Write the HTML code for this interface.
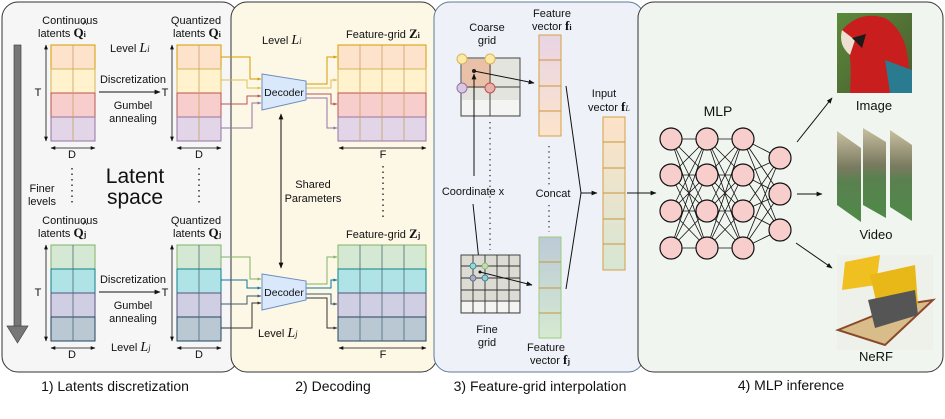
<!DOCTYPE html>
<html><head><meta charset="utf-8"><style>
html,body{margin:0;padding:0;background:#fff;}
svg{display:block;}
text{font-family:"Liberation Sans",sans-serif;fill:#111;}
.m{font-family:"Liberation Serif",serif;font-style:italic;}
.b{font-family:"Liberation Serif",serif;font-weight:bold;}
</style></head><body>
<svg width="945" height="419" viewBox="0 0 945 419" xmlns="http://www.w3.org/2000/svg">
<defs>
<marker id="ah" viewBox="0 0 10 10" refX="9" refY="5" markerWidth="6" markerHeight="6" orient="auto-start-reverse"><path d="M0,1 L10,5 L0,9 z" fill="#111"/></marker>
<marker id="as" viewBox="0 0 10 10" refX="9" refY="5" markerWidth="4" markerHeight="4" orient="auto"><path d="M0,1 L10,5 L0,9 z" fill="context-stroke"/></marker>
<linearGradient id="ginp" x1="0" y1="0" x2="0" y2="1"><stop offset="0" stop-color="#fde2c8"/><stop offset="1" stop-color="#d6e6d3"/></linearGradient>
<linearGradient id="gfi" x1="0" y1="0" x2="0" y2="1"><stop offset="0" stop-color="#e8d4e4"/><stop offset="1" stop-color="#fde4cc"/></linearGradient>
<linearGradient id="gfj" x1="0" y1="0" x2="0" y2="1"><stop offset="0" stop-color="#bccad6"/><stop offset="1" stop-color="#d6ead2"/></linearGradient>
<linearGradient id="gpar" x1="0" y1="0" x2="1" y2="1"><stop offset="0" stop-color="#5a8a3a"/><stop offset="1" stop-color="#4a5a30"/></linearGradient>
<linearGradient id="gvid" x1="0" y1="0" x2="0" y2="1"><stop offset="0" stop-color="#c8c0a0"/><stop offset="0.4" stop-color="#7a7a60"/><stop offset="0.55" stop-color="#5a8050"/><stop offset="1" stop-color="#4f8a48"/></linearGradient>
<g id="gu2">
<rect x="0" y="45" width="44" height="24" fill="#fde3cc" stroke="#d79b00"/>
<rect x="0" y="69" width="44" height="24" fill="#fff2cc" stroke="#d6b656"/>
<rect x="0" y="93" width="44" height="24" fill="#f8cecc" stroke="#b85450"/>
<rect x="0" y="117" width="44" height="24" fill="#e1d5e7" stroke="#9673a6"/>
<line x1="22" y1="45" x2="22" y2="141" stroke="#c8a060" stroke-width="0.8"/>
</g>
<g id="gl2">
<rect x="0" y="245" width="44" height="24" fill="#d5e8d4" stroke="#82b366"/>
<rect x="0" y="269" width="44" height="24" fill="#b0e3e6" stroke="#0e8088"/>
<rect x="0" y="293" width="44" height="24" fill="#d0cee2" stroke="#56517e"/>
<rect x="0" y="317" width="44" height="24" fill="#bac8d3" stroke="#23445d"/>
<line x1="22" y1="245" x2="22" y2="341" stroke="#4a6a7a" stroke-width="0.8"/>
</g>
</defs>

<!-- panels -->
<rect x="2" y="2" width="236" height="370" rx="16" fill="#f6f6f6" stroke="#333" stroke-width="1"/>
<rect x="231" y="2" width="206" height="370" rx="16" fill="#fdf7e6" stroke="#333" stroke-width="1"/>
<rect x="434" y="2" width="210" height="370" rx="16" fill="#eef2f8" stroke="#5c7a99" stroke-width="1"/>
<rect x="638" y="2" width="305" height="370" rx="16" fill="#f0f5ef" stroke="#333" stroke-width="1"/>

<text x="115" y="391" font-size="14" text-anchor="middle">1) Latents discretization</text>
<text x="333" y="391" font-size="14" text-anchor="middle">2) Decoding</text>
<text x="540" y="391" font-size="14" text-anchor="middle">3) Feature-grid interpolation</text>
<text x="791" y="390" font-size="14" text-anchor="middle">4) MLP inference</text>

<!-- panel 1 -->
<rect x="14" y="45" width="7" height="282" fill="#777" stroke="#444" stroke-width="0.7"/>
<path d="M7,326 L28,326 L17.5,343 z" fill="#777" stroke="#444" stroke-width="0.7"/>
<text x="42" y="192" font-size="11" text-anchor="middle">Finer</text>
<text x="42" y="205" font-size="11" text-anchor="middle">levels</text>
<text x="135" y="183" font-size="21" text-anchor="middle">Latent</text>
<text x="135" y="204" font-size="21" text-anchor="middle">space</text>
<line x1="72" y1="168" x2="72" y2="206" stroke="#333" stroke-width="1.5" stroke-dasharray="1.5,4"/>
<line x1="199" y1="168" x2="199" y2="206" stroke="#333" stroke-width="1.5" stroke-dasharray="1.5,4"/>

<g id="g1">
<g font-size="11">
<text x="70" y="24" text-anchor="middle">Continuous</text>
<text x="196" y="24" text-anchor="middle">Quantized</text>
<text x="133" y="83" text-anchor="middle">Discretization</text>
<text x="133" y="109" text-anchor="middle">Gumbel</text>
<text x="133" y="122" text-anchor="middle">annealing</text>
<text x="38" y="96" text-anchor="middle">T</text>
<text x="165" y="96" text-anchor="middle">T</text>
<text x="72" y="158" text-anchor="middle">D</text>
<text x="199" y="158" text-anchor="middle">D</text>
</g>
<line x1="99" y1="92" x2="160" y2="92" stroke="#111" marker-end="url(#ah)"/>
<line x1="46" y1="45" x2="46" y2="141" stroke="#111" stroke-width="0.8" marker-start="url(#ah)" marker-end="url(#ah)"/>
<line x1="172" y1="45" x2="172" y2="141" stroke="#111" stroke-width="0.8" marker-start="url(#ah)" marker-end="url(#ah)"/>
<line x1="51" y1="148" x2="95" y2="148" stroke="#111" stroke-width="0.8" marker-start="url(#ah)" marker-end="url(#ah)"/>
<line x1="177" y1="148" x2="221" y2="148" stroke="#111" stroke-width="0.8" marker-start="url(#ah)" marker-end="url(#ah)"/>
</g>
<use href="#g1" y="200"/>

<text x="38" y="37" font-size="11">latents <tspan class="b" font-size="13">Q</tspan><tspan class="b" font-size="8">i</tspan></text>
<text x="82" y="27" font-size="10" class="b">^</text>
<text x="173" y="37" font-size="11">latents <tspan class="b" font-size="13">Q</tspan><tspan class="b" font-size="8">i</tspan></text>
<text x="110" y="52" font-size="11">Level <tspan class="m" font-size="14">L</tspan><tspan class="m" font-size="9">i</tspan></text>
<text x="38" y="237" font-size="11">latents <tspan class="b" font-size="13">Q</tspan><tspan class="b" font-size="8">j</tspan></text>
<text x="82" y="227" font-size="10" class="b">^</text>
<text x="173" y="237" font-size="11">latents <tspan class="b" font-size="13">Q</tspan><tspan class="b" font-size="8">j</tspan></text>
<text x="111" y="351" font-size="11">Level <tspan class="m" font-size="14">L</tspan><tspan class="m" font-size="9">j</tspan></text>

<!-- grids -->
<use href="#gu2" x="51"/>
<use href="#gu2" x="177"/>
<use href="#gl2" x="51"/>
<use href="#gl2" x="177"/>

<!-- feature grids -->
<rect x="338" y="45" width="88" height="24" fill="#fde3cc" stroke="#d79b00"/>
<rect x="338" y="69" width="88" height="24" fill="#fff2cc" stroke="#d6b656"/>
<rect x="338" y="93" width="88" height="24" fill="#f8cecc" stroke="#b85450"/>
<rect x="338" y="117" width="88" height="24" fill="#e1d5e7" stroke="#9673a6"/>
<g stroke="#c8a060" stroke-width="0.8"><line x1="360" y1="45" x2="360" y2="141"/><line x1="382" y1="45" x2="382" y2="141"/><line x1="404" y1="45" x2="404" y2="141"/></g>
<rect x="338" y="245" width="88" height="24" fill="#d5e8d4" stroke="#82b366"/>
<rect x="338" y="269" width="88" height="24" fill="#b0e3e6" stroke="#0e8088"/>
<rect x="338" y="293" width="88" height="24" fill="#d0cee2" stroke="#56517e"/>
<rect x="338" y="317" width="88" height="24" fill="#bac8d3" stroke="#23445d"/>
<g stroke="#4a6a7a" stroke-width="0.8"><line x1="360" y1="245" x2="360" y2="341"/><line x1="382" y1="245" x2="382" y2="341"/><line x1="404" y1="245" x2="404" y2="341"/></g>

<!-- panel 2 -->
<text x="262" y="44" font-size="11">Level <tspan class="m" font-size="14">L</tspan><tspan class="m" font-size="9">i</tspan></text>
<text x="346" y="38" font-size="11">Feature-grid <tspan class="b" font-size="13">Z</tspan><tspan class="b" font-size="8">i</tspan></text>
<text x="346" y="238" font-size="11">Feature-grid <tspan class="b" font-size="13">Z</tspan><tspan class="b" font-size="8">j</tspan></text>
<text x="258" y="337" font-size="11">Level <tspan class="m" font-size="14">L</tspan><tspan class="m" font-size="9">j</tspan></text>
<line x1="339" y1="148" x2="426" y2="148" stroke="#111" stroke-width="0.8" marker-start="url(#ah)" marker-end="url(#ah)"/>
<line x1="339" y1="348" x2="426" y2="348" stroke="#111" stroke-width="0.8" marker-start="url(#ah)" marker-end="url(#ah)"/>
<text x="383" y="158" font-size="11" text-anchor="middle">F</text>
<text x="383" y="358" font-size="11" text-anchor="middle">F</text>
<line x1="383" y1="166" x2="383" y2="220" stroke="#333" stroke-width="1.5" stroke-dasharray="1.5,4"/>
<text x="313" y="188" font-size="11" text-anchor="middle">Shared</text>
<text x="313" y="202" font-size="11" text-anchor="middle">Parameters</text>
<line x1="281" y1="114" x2="281" y2="268" stroke="#111" stroke-width="1" marker-start="url(#ah)" marker-end="url(#ah)"/>

<g fill="none" stroke-width="1">
<polyline points="221,57 250,57 250,79 261,79" stroke="#d79b00" marker-end="url(#as)"/>
<polyline points="221,80 247,80 247,88 261,88" stroke="#e0c050" marker-end="url(#as)"/>
<polyline points="221,104 247,104 247,96 261,96" stroke="#b85450" marker-end="url(#as)"/>
<polyline points="221,128 252,128 252,103 261,103" stroke="#9673a6" marker-end="url(#as)"/>
<polyline points="306,84 327,84 327,57 337,57" stroke="#d79b00" marker-end="url(#as)"/>
<polyline points="306,88 331,88 331,80 337,80" stroke="#e0c050" marker-end="url(#as)"/>
<polyline points="306,94 331,94 331,104 337,104" stroke="#b85450" marker-end="url(#as)"/>
<polyline points="306,98 327,98 327,128 337,128" stroke="#9673a6" marker-end="url(#as)"/>
<polyline points="221,257 250,257 250,279 261,279" stroke="#82b366" marker-end="url(#as)"/>
<polyline points="221,280 247,280 247,288 261,288" stroke="#10739e" marker-end="url(#as)"/>
<polyline points="221,304 247,304 247,296 261,296" stroke="#3c5a6e" marker-end="url(#as)"/>
<polyline points="221,328 252,328 252,303 261,303" stroke="#333" marker-end="url(#as)"/>
<polyline points="306,284 327,284 327,257 337,257" stroke="#82b366" marker-end="url(#as)"/>
<polyline points="306,288 331,288 331,280 337,280" stroke="#10739e" marker-end="url(#as)"/>
<polyline points="306,294 331,294 331,304 337,304" stroke="#3c5a6e" marker-end="url(#as)"/>
<polyline points="306,298 327,298 327,328 337,328" stroke="#333" marker-end="url(#as)"/>
</g>
<path d="M262,74 L306,81 L306,100 L262,110 z" fill="#dae8fc" stroke="#6c8ebf"/>
<text x="284" y="96" font-size="10.5" text-anchor="middle">Decoder</text>
<path d="M262,274 L306,281 L306,300 L262,310 z" fill="#dae8fc" stroke="#6c8ebf"/>
<text x="284" y="296" font-size="10.5" text-anchor="middle">Decoder</text>

<!-- panel 3 -->
<text x="487" y="31" font-size="11" text-anchor="middle">Coarse</text>
<text x="487" y="44" font-size="11" text-anchor="middle">grid</text>
<text x="552" y="17" font-size="11" text-anchor="middle">Feature</text>
<text x="532" y="30" font-size="11">vector <tspan class="b" font-size="13">f</tspan><tspan class="b" font-size="8">i</tspan></text>
<text x="546" y="351" font-size="11" text-anchor="middle">Feature</text>
<text x="530" y="364" font-size="11">vector <tspan class="b" font-size="13">f</tspan><tspan class="b" font-size="8">j</tspan></text>
<text x="487" y="333" font-size="11" text-anchor="middle">Fine</text>
<text x="487" y="346" font-size="11" text-anchor="middle">grid</text>
<text x="473" y="195" font-size="11" text-anchor="middle">Coordinate x</text>
<text x="553" y="197" font-size="11" text-anchor="middle">Concat</text>
<text x="604" y="97" font-size="11" text-anchor="middle">Input</text>
<text x="588" y="111" font-size="11">vector <tspan class="b" font-size="13">f</tspan><tspan class="m" font-size="8">L</tspan></text>

<rect x="461" y="58" width="59" height="58" fill="#e4e4de" stroke="#444"/>
<rect x="462" y="59" width="29" height="29" fill="#e8b89a" opacity="0.8"/>
<rect x="462" y="100" width="57" height="15" fill="#f4f4f2"/>
<line x1="490" y1="58" x2="490" y2="116" stroke="#444"/><line x1="461" y1="87" x2="520" y2="87" stroke="#444"/>
<circle cx="462" cy="59" r="5" fill="#fde9a8" stroke="#d6b656"/><circle cx="490" cy="59" r="5" fill="#fde9a8" stroke="#d6b656"/>
<circle cx="462" cy="88" r="5" fill="#d8c8e4" stroke="#9673a6"/><circle cx="490" cy="88" r="5" fill="#e8b0a8" stroke="#b85450"/>
<circle cx="474" cy="71" r="2" fill="#222"/>
<line x1="474" y1="71" x2="534" y2="83" stroke="#111" marker-end="url(#ah)"/>
<line x1="474" y1="176" x2="474" y2="74" stroke="#111" marker-end="url(#ah)"/>
<line x1="473" y1="204" x2="480" y2="270" stroke="#111"/>
<line x1="490" y1="122" x2="490" y2="250" stroke="#333" stroke-width="1.3" stroke-dasharray="1.3,4"/>

<rect x="461" y="255" width="59" height="58" fill="#dcdcd4" stroke="#444"/>
<rect x="462" y="300" width="57" height="12" fill="#f4f4f2"/>
<g stroke="#333" stroke-width="0.9">
<line x1="473" y1="255" x2="473" y2="313"/><line x1="485" y1="255" x2="485" y2="313"/><line x1="497" y1="255" x2="497" y2="313"/><line x1="509" y1="255" x2="509" y2="313"/>
<line x1="461" y1="266" x2="520" y2="266"/><line x1="461" y1="278" x2="520" y2="278"/><line x1="461" y1="290" x2="520" y2="290"/><line x1="461" y1="301" x2="520" y2="301"/>
</g>
<circle cx="473" cy="266" r="3" fill="#a0d4d0" stroke="#0e8088" stroke-width="0.7"/><circle cx="485" cy="266" r="3" fill="#c0dcb0" stroke="#82b366" stroke-width="0.7"/>
<circle cx="473" cy="278" r="3" fill="#a8b0c0" stroke="#56517e" stroke-width="0.7"/><circle cx="485" cy="278" r="3" fill="#a0c8d0" stroke="#10739e" stroke-width="0.7"/>
<circle cx="480" cy="272" r="1.5" fill="#111"/>
<line x1="480" y1="272" x2="532" y2="285" stroke="#111" marker-end="url(#ah)"/>

<rect x="539" y="35" width="22" height="101" fill="url(#gfi)" stroke="#d6a040"/>
<g stroke="#c8963c"><line x1="539" y1="60" x2="561" y2="60"/><line x1="539" y1="86" x2="561" y2="86"/><line x1="539" y1="111" x2="561" y2="111"/></g>
<rect x="539" y="237" width="22" height="101" fill="url(#gfj)" stroke="#9ccc80"/>
<g stroke="#c8963c"><line x1="539" y1="262" x2="561" y2="262"/><line x1="539" y1="288" x2="561" y2="288"/><line x1="539" y1="313" x2="561" y2="313"/></g>
<line x1="549" y1="146" x2="549" y2="185" stroke="#333" stroke-width="1.3" stroke-dasharray="1.3,4"/>
<line x1="549" y1="205" x2="549" y2="232" stroke="#333" stroke-width="1.3" stroke-dasharray="1.3,4"/>
<polyline points="566,86 581,193 566,289" fill="none" stroke="#111"/>
<line x1="581" y1="193" x2="597" y2="193" stroke="#111" marker-end="url(#ah)"/>
<rect x="603" y="117" width="22" height="153" fill="url(#ginp)" stroke="#d6a040"/>
<g stroke="#c8963c"><line x1="603" y1="142" x2="625" y2="142"/><line x1="603" y1="168" x2="625" y2="168"/><line x1="603" y1="193" x2="625" y2="193"/><line x1="603" y1="219" x2="625" y2="219"/><line x1="603" y1="244" x2="625" y2="244"/></g>
<line x1="627" y1="193" x2="656" y2="193" stroke="#111" marker-end="url(#ah)"/>

<!-- panel 4 MLP -->
<text x="718" y="116" font-size="14" text-anchor="middle">MLP</text>
<g stroke="#111" stroke-width="0.8">
<path d="M671,139L707,139M671,139L707,175M671,139L707,211M671,139L707,248M671,175L707,139M671,175L707,175M671,175L707,211M671,175L707,248M671,211L707,139M671,211L707,175M671,211L707,211M671,211L707,248M671,248L707,139M671,248L707,175M671,248L707,211M671,248L707,248"/>
<path d="M707,139L743,139M707,139L743,175M707,139L743,211M707,139L743,248M707,175L743,139M707,175L743,175M707,175L743,211M707,175L743,248M707,211L743,139M707,211L743,175M707,211L743,211M707,211L743,248M707,248L743,139M707,248L743,175M707,248L743,211M707,248L743,248"/>
<path d="M743,139L780,158M743,139L780,194M743,139L780,230M743,175L780,158M743,175L780,194M743,175L780,230M743,211L780,158M743,211L780,194M743,211L780,230M743,248L780,158M743,248L780,194M743,248L780,230"/>
</g>
<g fill="#f8cecc" stroke="#111" stroke-width="1.2">
<circle cx="671" cy="139" r="11"/><circle cx="671" cy="175" r="11"/><circle cx="671" cy="211" r="11"/><circle cx="671" cy="248" r="11"/>
<circle cx="707" cy="139" r="11"/><circle cx="707" cy="175" r="11"/><circle cx="707" cy="211" r="11"/><circle cx="707" cy="248" r="11"/>
<circle cx="743" cy="139" r="11"/><circle cx="743" cy="175" r="11"/><circle cx="743" cy="211" r="11"/><circle cx="743" cy="248" r="11"/>
<circle cx="780" cy="158" r="11"/><circle cx="780" cy="194" r="11"/><circle cx="780" cy="230" r="11"/>
</g>
<line x1="797" y1="142" x2="832" y2="98" stroke="#111" marker-end="url(#ah)"/>
<line x1="797" y1="194" x2="822" y2="194" stroke="#111" marker-end="url(#ah)"/>
<line x1="796" y1="243" x2="832" y2="268" stroke="#111" marker-end="url(#ah)"/>

<!-- parrot -->
<rect x="837" y="13" width="75" height="80" fill="url(#gpar)"/>
<path d="M842,30 Q860,10 885,18 Q905,30 908,60 L912,93 L850,93 Q852,60 848,48 z" fill="#c81e1e"/>
<path d="M842,30 Q838,45 850,55 L855,40 z" fill="#eee0d0"/>
<path d="M852,38 L866,34 L862,48 z" fill="#1a1a1a"/>
<path d="M885,60 L912,70 L912,93 L890,93 z" fill="#2a7a90"/>
<text x="874" y="110" font-size="13" text-anchor="middle">Image</text>

<!-- video -->
<path d="M837,131 L861,148 L861,222 L837,205 z" fill="url(#gvid)"/>
<path d="M863,128 L886,142 L886,218 L863,205 z" fill="url(#gvid)"/>
<path d="M890,130 L912,145 L912,221 L890,207 z" fill="url(#gvid)"/>
<text x="876" y="239" font-size="13" text-anchor="middle">Video</text>

<!-- nerf -->
<rect x="837" y="255" width="96" height="95" fill="#eef0ea"/>
<path d="M838,330 L900,305 L933,300 L885,345 z" fill="#d8bc8a" stroke="#8a4a2a" stroke-width="2"/>
<path d="M845,262 L880,255 L876,285 L842,290 z" fill="#f0c020"/>
<path d="M870,275 L915,265 L918,305 L880,318 z" fill="#e8b818"/>
<path d="M868,300 L915,290 L918,315 L875,328 z" fill="#555"/>
<text x="876" y="361" font-size="13" text-anchor="middle">NeRF</text>
</svg>
</body></html>
